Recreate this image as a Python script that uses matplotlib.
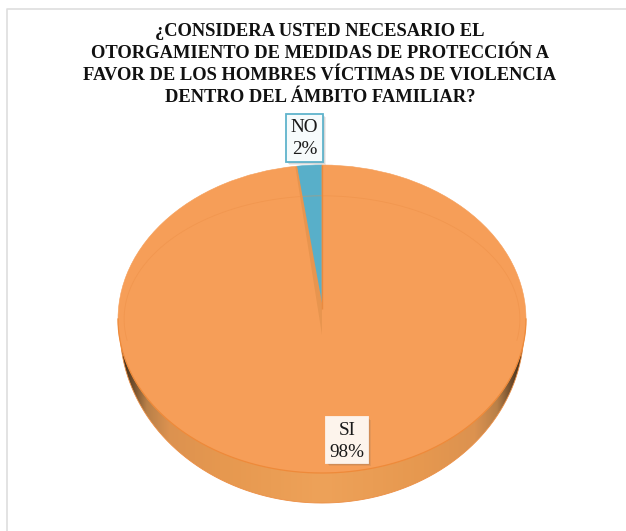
import numpy as np
import matplotlib
matplotlib.use('Agg')
import matplotlib.pyplot as plt
from matplotlib.colors import to_rgb
from matplotlib.patches import Polygon, Rectangle

title_lines = ['¿CONSIDERA USTED NECESARIO EL',
               'OTORGAMIENTO DE MEDIDAS DE PROTECCIÓN A',
               'FAVOR DE LOS HOMBRES VÍCTIMAS DE VIOLENCIA',
               'DENTRO DEL ÁMBITO FAMILIAR?']
categories = ['NO', 'SI']
shares = [2, 98]
slice_colors = ['#58afc9', '#f69e58']
edge_colors = ['#58afc9', '#f69e58']

W, H = 626, 531
plt.rcParams['font.family'] = ['Liberation Serif', 'DejaVu Serif']
fig = plt.figure(figsize=(W/100, H/100), dpi=100, facecolor='white')

# page layer in pixel coordinates
bg = fig.add_axes([0, 0, 1, 1])
bg.set_xlim(0, W); bg.set_ylim(H, 0); bg.axis('off')
bg.plot([7, 7, W], [H, 9, 9], color='#dedede', lw=1.2)

L, R, T, B = 118, 526, 165, 473
ax = fig.add_axes([L/W, 1-B/H, (R-L)/W, (B-T)/H], zorder=2)
wedges, _ = ax.pie(shares, colors=slice_colors, startangle=90, counterclock=True,
                   radius=1, center=(0, 0), frame=False,
                   wedgeprops=dict(linewidth=0.4))
for w, e in zip(wedges, edge_colors):
    w.set_edgecolor(e)

# extruded rim: smooth shading clipped to the lower outline
th = np.linspace(np.pi, 2*np.pi, 361)
rim_x, rim_cy, rim_ry = 0.99, -0.065, 1.13
rim_pts = np.column_stack([rim_x*np.cos(th), rim_cy + rim_ry*np.sin(th)])
stops = [0, 0.5, 0.75, 0.86, 0.93, 1.0]
shade = np.array([to_rgb(c) for c in ['#eea259', '#e6984f', '#dc9250', '#b98048', '#6e4c2c', '#2a1e10']])
xs = np.linspace(-1, 1, 512)
grad = np.stack([np.interp(np.abs(xs), stops, shade[:, i]) for i in range(3)], axis=-1)[None, :, :]
clip = Polygon(rim_pts, closed=True, transform=ax.transData, fc='none', ec='none', clip_on=False)
ax.add_patch(clip)
im = ax.imshow(grad, extent=(-1, 1, -1.3, 0.2), aspect='auto', zorder=0)
im.set_clip_path(clip)
im.set_clip_box(fig.bbox)
ax.plot(rim_pts[:, 0], rim_pts[:, 1], color='#ec8f45', lw=0.6, clip_on=False, zorder=0.5)
ax.set_aspect('auto')
ax.set_xlim(-1, 1); ax.set_ylim(-1, 1)
ax.axis('off')

# front edge of the top face
ax.plot(np.cos(th), np.sin(th), color='#ee8a3a', lw=0.9, clip_on=False, zorder=3)

# inner bevel highlight, upper part only
tb = np.linspace(np.deg2rad(-10), np.deg2rad(190), 200)
ax.plot(0.97*np.cos(tb), 0.80*np.sin(tb), color='#ec8e45', lw=0.6, alpha=0.45, zorder=3)

# shaded inner face beside the small slice
ang = np.deg2rad(90 + 360*shares[0]/sum(shares))
tip_face, tip_blue = -0.104, 0.104
face_top = (np.cos(ang)*1.04, np.sin(ang)*0.995)
blue_top = (np.cos(ang)*0.97, np.sin(ang)*0.995)
ax.add_patch(Polygon([face_top, (0, tip_face), (0, tip_blue), blue_top], closed=True,
                     fc='#e8954f', ec='none', zorder=3))
ax.plot([0, 0], [tip_blue - 0.04, 1], color='#e98a3f', lw=1.0, solid_capstyle='butt', zorder=3.1)

# title
for line, y in zip(title_lines, [32, 54, 75, 97]):
    fig.text(320/W, 1-y/H, line, ha='center', va='center', fontsize=13.35,
             fontweight='bold', color='#111111', zorder=5)

# value labels
boxes = {'NO': (286, 114, 37, 48), 'SI': (326, 417, 42, 46)}
face = {'NO': '#f6fbfc', 'SI': '#fdf4ec'}
edge = {'NO': '#5fb3cc', 'SI': '#fdf4ec'}
fg = fig.add_axes([0, 0, 1, 1], zorder=4)
fg.set_xlim(0, W); fg.set_ylim(H, 0); fg.axis('off'); fg.patch.set_alpha(0)
for cat, val in zip(categories, shares):
    x, y, w, h = boxes[cat]
    for off, al in [(3, 0.10), (2, 0.14), (1, 0.18)]:
        fg.add_patch(Rectangle((x+off, y+off), w, h, fc='#555555', ec='none', alpha=al))
    fg.add_patch(Rectangle((x, y), w, h, fc=face[cat], ec=edge[cat], lw=1.3))
    fg.text(x+w/2, y+13.5, cat, ha='center', va='center', fontsize=13.8, color='#1a1a1a')
    fg.text(x+w/2, y+35.5, f'{val}%', ha='center', va='center', fontsize=13.8, color='#1a1a1a')

fig.savefig('out.png', dpi=100)
